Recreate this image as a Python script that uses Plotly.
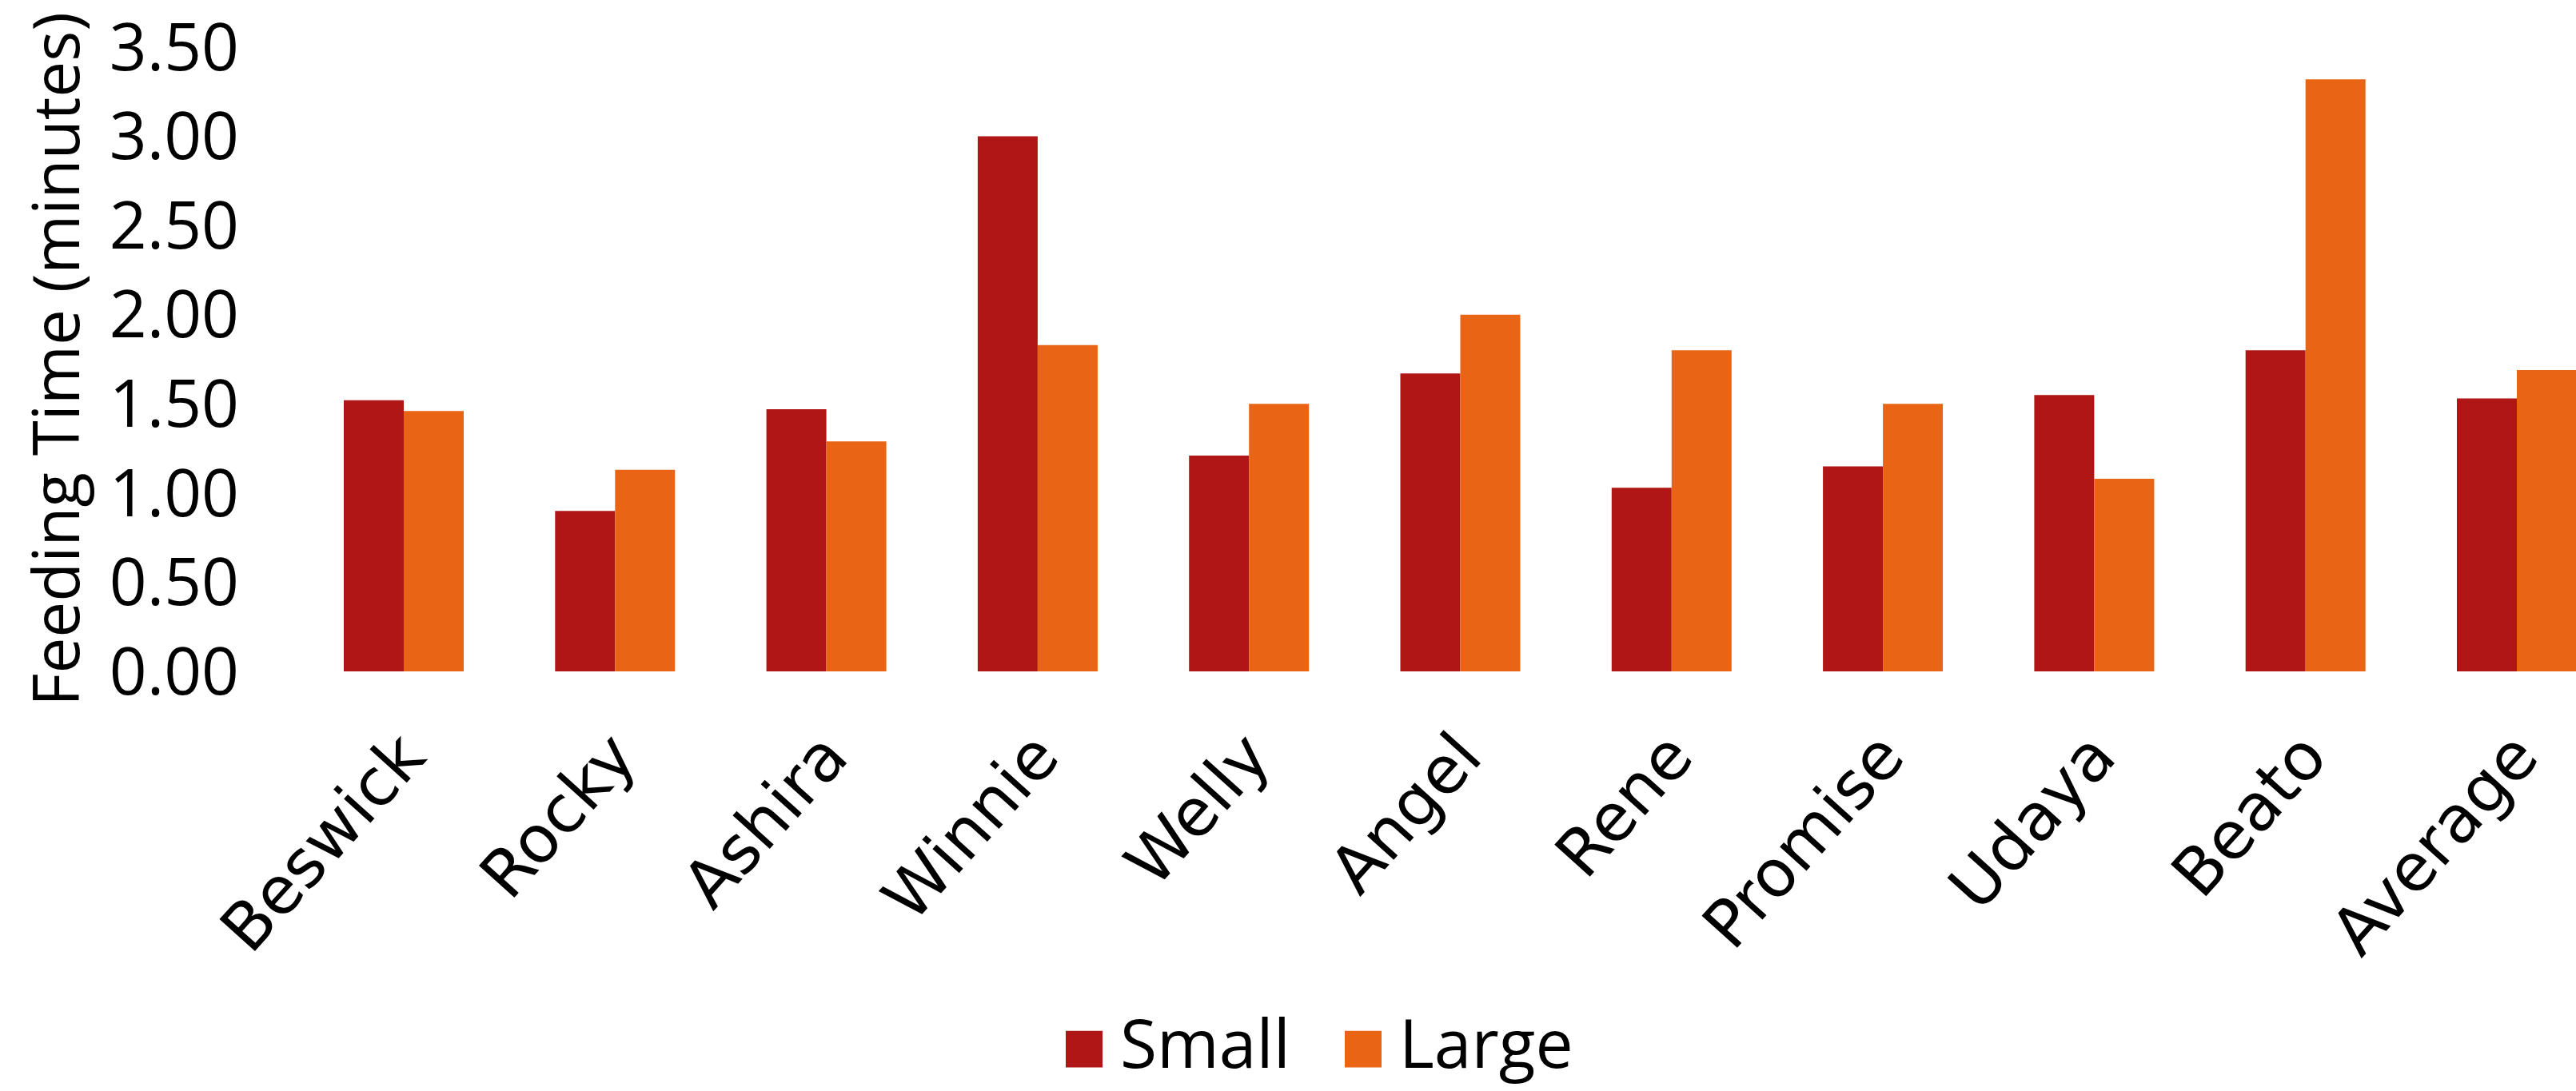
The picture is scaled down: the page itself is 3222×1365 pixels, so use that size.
import plotly.graph_objects as go

# Feeding time per individual, small vs large feeder
animals = ["Beswick", "Rocky", "Ashira", "Winnie", "Welly", "Angel",
           "Rene", "Promise", "Udaya", "Beato", "Average"]
small = [1.52, 0.90, 1.47, 3.00, 1.21, 1.67, 1.03, 1.15, 1.55, 1.80, 1.53]
large = [1.46, 1.13, 1.29, 1.83, 1.50, 2.00, 1.80, 1.50, 1.08, 3.32, 1.69]
y_ticks = [0.0, 0.5, 1.0, 1.5, 2.0, 2.5, 3.0, 3.5]

SMALL_COLOR = "#B01615"
LARGE_COLOR = "#E96414"
FONT = "Open Sans"
CAT_FONT = "DejaVu Sans"

W, H = 3222, 1365
ML, MR, MT, MB = 300, 0, 55, 525

fig = go.Figure()
fig.add_trace(go.Bar(name="Small", x=animals, y=small,
                     marker=dict(color=SMALL_COLOR, line=dict(width=0))))
fig.add_trace(go.Bar(name="Large", x=animals, y=large,
                     marker=dict(color=LARGE_COLOR, line=dict(width=0))))

# custom legend with large swatches below the axis labels
pw = W - ML - MR
ph = H - MT - MB
def px_x(v):
    return (v - ML) / pw
def px_y(v):
    return (H - MB - v) / ph

legend_items = [("Small", SMALL_COLOR, 1333), ("Large", LARGE_COLOR, 1682)]
shapes = []
annotations = []
for label, color, x0 in legend_items:
    shapes.append(dict(type="rect", xref="paper", yref="paper",
                       x0=px_x(x0), x1=px_x(x0 + 46),
                       y0=px_y(1292), y1=px_y(1338),
                       fillcolor=color, line=dict(width=0)))
    annotations.append(dict(xref="paper", yref="paper",
                            x=px_x(x0 + 66), y=px_y(1306),
                            xanchor="left", yanchor="middle",
                            text=label, showarrow=False,
                            font=dict(family=FONT, size=84, color="black")))

fig.update_layout(
    width=W, height=H,
    margin=dict(l=ML, r=MR, t=MT, b=MB),
    barmode="group", bargap=0.4325, bargroupgap=0,
    plot_bgcolor="white", paper_bgcolor="white",
    showlegend=False,
    font=dict(family=FONT, color="black"),
    shapes=shapes, annotations=annotations,
)
fig.update_xaxes(
    range=[-0.7756, 10.28], tickangle=-48,
    tickfont=dict(family=CAT_FONT, size=82, color="black"),
    ticklabelstandoff=40,
    showline=False, showgrid=False, ticks="", zeroline=False,
)
fig.update_yaxes(
    range=[0, 3.5001], tickvals=y_ticks, tickformat=".2f",
    tickfont=dict(family=FONT, size=82, color="black"),
    ticklabeloverflow="allow",
    showline=False, showgrid=False, ticks="", zeroline=False,
    title=dict(text="Feeding Time (minutes)",
               font=dict(family=FONT, size=80, color="black"), standoff=10),
)

fig.write_html("out.html")
